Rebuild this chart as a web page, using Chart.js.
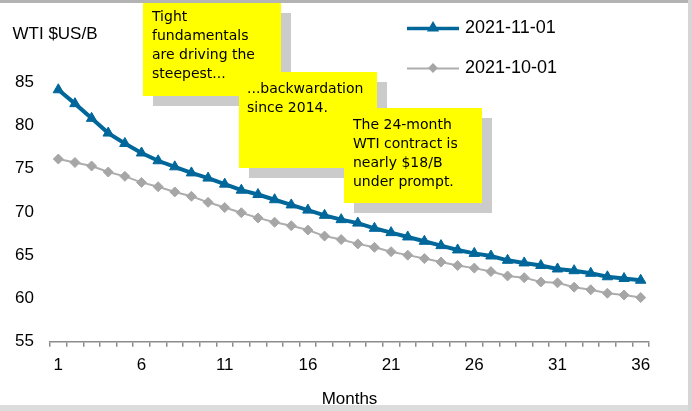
<!DOCTYPE html>
<html>
<head>
<meta charset="utf-8">
<script src="https://cdn.jsdelivr.net/npm/chart.js@4.4.1/dist/chart.umd.min.js"></script>
<style>
  html, body { margin: 0; padding: 0; background: #fff; }
  #wrap { position: relative; width: 692px; height: 411px; overflow: hidden; }
  .edge { position: absolute; }
</style>
</head>
<body>
<div id="wrap">
  <canvas id="chart" width="692" height="411"></canvas>
  <div class="edge" style="left:0;top:0;width:692px;height:3px;background:#b3b3b3"></div>
  <div class="edge" style="left:0;top:405px;width:692px;height:6px;background:#dcdcdc"></div>
  <div class="edge" style="left:688px;top:0;width:4px;height:411px;background:#d6d6d6"></div>
</div>
<script>
// data
const months = [1, 2, 3, 4, 5, 6, 7, 8, 9, 10, 11, 12, 13, 14, 15, 16, 17, 18,
  19, 20, 21, 22, 23, 24, 25, 26, 27, 28, 29, 30, 31, 32, 33, 34, 35, 36];
const curveNov = [84.1, 82.5, 80.8, 79.1, 77.9, 76.8, 75.9, 75.2, 74.5, 73.9, 73.2, 72.5,
  72.0, 71.4, 70.8, 70.2, 69.6, 69.1, 68.7, 68.1, 67.6, 67.1, 66.6, 66.1,
  65.6, 65.2, 64.9, 64.4, 64.1, 63.8, 63.4, 63.2, 62.9, 62.5, 62.3, 62.1];
const curveOct = [76.1, 75.7, 75.3, 74.6, 74.1, 73.4, 72.9, 72.3, 71.8, 71.1, 70.5, 69.9,
  69.3, 68.8, 68.4, 67.9, 67.2, 66.8, 66.3, 65.9, 65.4, 65.0, 64.6, 64.2,
  63.8, 63.5, 63.1, 62.6, 62.4, 61.9, 61.8, 61.3, 61.0, 60.6, 60.4, 60.1];
const yTicks = [55, 60, 65, 70, 75, 80, 85];
const seriesNames = ["2021-11-01", "2021-10-01"];
const axisTitleY = "WTI $US/B";
const axisTitleX = "Months";
const noteOne = ["Tight", "fundamentals", "are driving the", "steepest..."];
const noteTwo = ["...backwardation", "since 2014."];
const noteThree = ["The 24-month", "WTI contract is", "nearly $18/B", "under prompt."];

const FONT = "'Liberation Sans', Arial, sans-serif";
const NOTE_FONT = "14px 'Comic Sans MS', 'DejaVu Sans', sans-serif";
Chart.defaults.font.family = FONT;
Chart.defaults.color = "#000";

// sticky notes: yellow box with a grey drop shadow
const notes = [
  { x: 143, y: 3, w: 138, h: 93, tx: 152, ty: 17, lh: 19.2, lines: noteOne },
  { x: 239, y: 72, w: 138, h: 96, tx: 247, ty: 89.5, lh: 19, lines: noteTwo },
  { x: 344, y: 108, w: 138, h: 95, tx: 353, ty: 125, lh: 19.2, lines: noteThree }
];

const overlay = {
  id: "overlay",
  afterDraw(chart) {
    const ctx = chart.ctx;
    ctx.save();

    // y axis title, horizontal above the ticks
    ctx.font = "17px " + FONT;
    ctx.fillStyle = "#000";
    ctx.textBaseline = "middle";
    ctx.textAlign = "left";
    ctx.fillText(axisTitleY, 12.5, 34);

    // legend: short line with a small marker
    chart.data.datasets.forEach((ds, i) => {
      const y = 28.5 + i * 40;
      ctx.strokeStyle = ds.borderColor;
      ctx.lineWidth = i === 0 ? 3.5 : 2;
      ctx.beginPath();
      ctx.moveTo(407, y);
      ctx.lineTo(459, y);
      ctx.stroke();
      ctx.fillStyle = ds.pointBackgroundColor;
      ctx.strokeStyle = ds.pointBorderColor;
      Chart.helpers.drawPoint(ctx, { pointStyle: ds.pointStyle, radius: 3.5, rotation: 0, borderWidth: 1 }, 433, y - 0.5);
      ctx.fillStyle = "#000";
      ctx.font = "18px " + FONT;
      ctx.fillText(ds.label, 465, y);
    });

    notes.forEach((n) => {
      ctx.fillStyle = "#cbcbcb";
      ctx.fillRect(n.x + 10, n.y + 10, n.w, n.h);
      ctx.fillStyle = "#ffff00";
      ctx.fillRect(n.x, n.y, n.w, n.h);
      ctx.fillStyle = "#000";
      ctx.font = NOTE_FONT;
      n.lines.forEach((t, k) => ctx.fillText(t, n.tx, n.ty + k * n.lh));
    });
    ctx.restore();
  }
};

new Chart(document.getElementById("chart"), {
  type: "line",
  data: {
    labels: months,
    datasets: [
      {
        label: seriesNames[0],
        data: curveNov,
        borderColor: "#00679b",
        backgroundColor: "#00679b",
        borderWidth: 4,
        pointStyle: "triangle",
        pointRadius: 6,
        pointBackgroundColor: "#00679b",
        pointBorderColor: "#00679b",
        pointBorderWidth: 1,
        tension: 0
      },
      {
        label: seriesNames[1],
        data: curveOct,
        borderColor: "#adadad",
        backgroundColor: "#a6a6a6",
        borderWidth: 2,
        pointStyle: "rectRot",
        pointRadius: 5,
        pointBackgroundColor: "#a6a6a6",
        pointBorderColor: "#a6a6a6",
        pointBorderWidth: 1,
        tension: 0
      }
    ]
  },
  options: {
    responsive: false,
    animation: false,
    layout: { padding: { top: 82, right: 43, left: 0, bottom: 0 } },
    plugins: { legend: { display: false }, tooltip: { enabled: false } },
    scales: {
      x: {
        offset: true,
        grid: {
          display: true,
          offset: true,
          drawOnChartArea: false,
          drawTicks: true,
          tickLength: 5,
          color: "#8c8c8c",
          lineWidth: 1.5
        },
        border: { display: true, color: "#8c8c8c", width: 1.5 },
        ticks: {
          autoSkip: false,
          maxRotation: 0,
          padding: 8,
          font: { size: 17 },
          callback: (v, i) => (i % 5 === 0 ? months[i] : "")
        },
        title: {
          display: true,
          text: axisTitleX,
          font: { size: 17 },
          padding: { top: 0, bottom: 1 }
        },
        afterFit: (s) => { s.height = 69.3; }
      },
      y: {
        min: yTicks[0],
        max: yTicks[yTicks.length - 1],
        grid: { display: false, drawTicks: false },
        border: { display: false },
        afterBuildTicks: (s) => { s.ticks = yTicks.map((v) => ({ value: v })); },
        ticks: { padding: 16, font: { size: 17 } },
        afterFit: (s) => { s.width = 50; }
      }
    }
  },
  plugins: [overlay]
});
</script>
</body>
</html>
